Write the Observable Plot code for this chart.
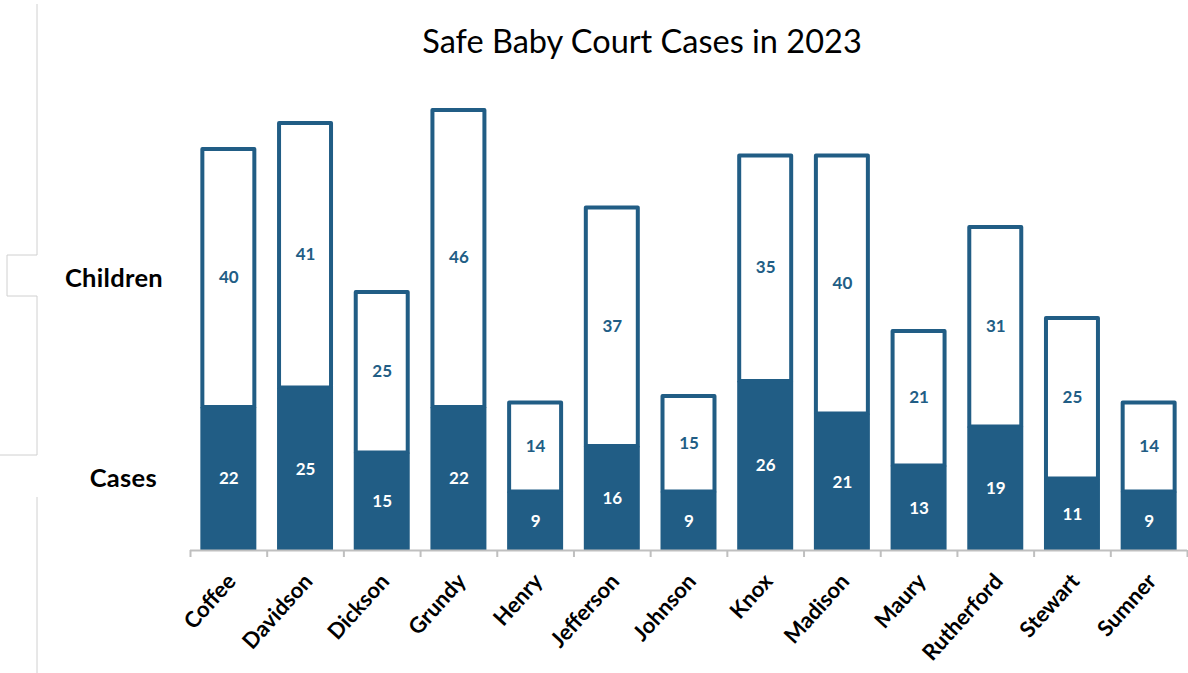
<!DOCTYPE html>
<html>
<head>
<meta charset="utf-8">
<script src="https://cdn.jsdelivr.net/npm/d3@7"></script>
<script src="https://cdn.jsdelivr.net/npm/@observablehq/plot@0.6"></script>
<style>
  body { margin: 0; background: white; }
  #wrap { position: relative; width: 1188px; height: 673px; overflow: hidden; font-family: Lato, "Open Sans", sans-serif; }
  #chart svg { position: absolute; left: 0; top: 0; }
  #title { position: absolute; left: 0; width: 1284px; top: 21px; text-align: center; font-size: 32.5px; color: #000; }
  .side { position: absolute; text-align: right; font-weight: bold; font-size: 25.5px; color: #000; line-height: 1; }
</style>
</head>
<body>
<div id="wrap">
  <div id="chart"></div>
  <svg id="bracket" width="1188" height="673" style="position:absolute;left:0;top:0;pointer-events:none">
    <polyline points="37,4 37,255 7,255 7,296 37,296 37,455 0,455" fill="none" stroke="#d0d0d0" stroke-width="1"/>
    <line x1="37" y1="497" x2="37" y2="673" stroke="#d0d0d0" stroke-width="1"/>
  </svg>
  <div id="title">Safe Baby Court Cases in 2023</div>
  <div class="side" style="top:265px; width:163px; letter-spacing:0.3px">Children</div>
  <div class="side" style="top:465px; width:157px; letter-spacing:0.3px">Cases</div>
</div>
<script>
const counties = ["Coffee","Davidson","Dickson","Grundy","Henry","Jefferson","Johnson","Knox","Madison","Maury","Rutherford","Stewart","Sumner"];
const cases    = [22, 25, 15, 22, 9, 16, 9, 26, 21, 13, 19, 11, 9];
const children = [40, 41, 25, 46, 14, 37, 15, 35, 40, 21, 31, 25, 14];

const data = counties.map((c, i) => ({county: c, cases: cases[i], children: children[i], total: cases[i] + children[i]}));

const blue = "#215d85";
const step = (1188 - 190 - 1) / counties.length;

const chart = Plot.plot({
  width: 1188,
  height: 673,
  marginLeft: 190,
  marginRight: 1,
  marginTop: 30,
  marginBottom: 123,
  style: {background: "transparent", fontFamily: "Lato, 'Open Sans', sans-serif"},
  x: {domain: counties, paddingInner: 0.27, paddingOuter: 0.135, round: false, label: null, axis: null},
  y: {domain: [0, 80], axis: null},
  marks: [
    Plot.barY(data, {x: "county", y1: "cases", y2: "total", fill: "white", stroke: blue, strokeWidth: 4, strokeLinejoin: "round", insetTop: 2, insetLeft: 2, insetRight: 2}),
    Plot.barY(data, {x: "county", y1: 0, y2: "cases", fill: blue}),
    Plot.ruleY([0], {stroke: "#bfbfbf", strokeWidth: 2}),
    Plot.axisX({tickSize: 7, text: null, stroke: "#bfbfbf", strokeWidth: 2, dx: -step / 2}),
    Plot.axisX({ticks: [counties[counties.length - 1]], tickSize: 7, text: null, stroke: "#bfbfbf", strokeWidth: 2, dx: step / 2}),
    Plot.axisX({tickSize: 0, tickPadding: 27, tickRotate: -48, fontSize: 22, fontWeight: "bold", fill: "#000", label: null, dx: 3}),
    Plot.text(data, {x: "county", y: d => d.cases / 2, text: "cases", fill: "white", fontSize: 17, fontWeight: "bold"}),
    Plot.text(data, {x: "county", y: d => d.cases + d.children / 2, text: "children", fill: blue, fontSize: 17, fontWeight: "bold"})
  ]
});
document.getElementById("chart").append(chart);
</script>
</body>
</html>
